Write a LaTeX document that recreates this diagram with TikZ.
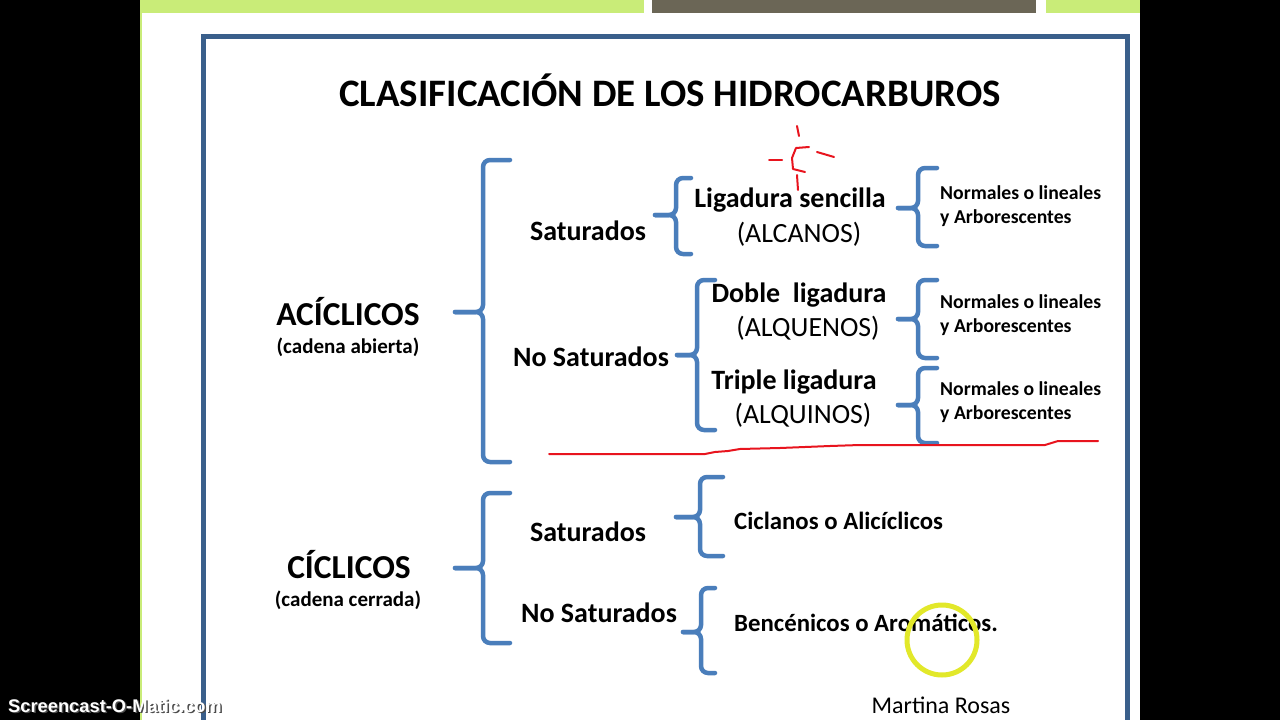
\documentclass[tikz,border=0pt]{standalone}
\usepackage{fontspec}
\setmainfont{Carlito}
\newfontfamily\wmfont{Liberation Sans}
\usetikzlibrary{positioning}

\definecolor{stripgreen}{HTML}{C9EC78}
\definecolor{stripgray}{HTML}{6B6656}
\definecolor{frameblue}{HTML}{3A5F8B}
\definecolor{braceblue}{HTML}{4A7EBB}
\definecolor{annred}{HTML}{E8141E}
\definecolor{cursoryellow}{HTML}{E2E82A}

\begin{document}
\begin{tikzpicture}[x=1pt,y=-1pt,
    brace/.style={braceblue,line width=4.5pt,rounded corners=7pt,line cap=round},
    title/.style={inner sep=0pt,anchor=base,font=\bfseries\fontsize{38.9}{41}\selectfont},
    group/.style={inner sep=0pt,anchor=base,font=\bfseries\fontsize{33.5}{36}\selectfont},
    groupsub/.style={inner sep=0pt,anchor=base,font=\bfseries\fontsize{21}{24}\selectfont},
    kind/.style={inner sep=0pt,anchor=base,font=\bfseries\fontsize{28}{30}\selectfont},
    family/.style={inner sep=0pt,anchor=base,font=\fontsize{27.8}{30}\selectfont},
    leaf/.style={inner sep=0pt,anchor=base west,font=\bfseries\fontsize{19.7}{22}\selectfont},
    cyclic/.style={inner sep=0pt,anchor=base west,font=\bfseries\fontsize{24.8}{27}\selectfont},
    annot/.style={annred,line width=2pt,line cap=round,line join=round}]
  \useasboundingbox (0,0) rectangle (1280,720);
  % screen and slide
  \fill[black] (0,0) rectangle (1280,720);
  \fill[white] (140,0) rectangle (1140,720);
  \fill[stripgreen] (140,0) rectangle (644,13);
  \fill[stripgray] (652,0) rectangle (1036,13);
  \fill[stripgreen] (1046,0) rectangle (1140,13);
  \draw[stripgreen,line width=1.5pt] (141,13) -- (141,720);
  \draw[frameblue,line width=5pt] (203,36) rectangle (1127,740);

  \node[title] (titulo) at (670,106) {CLASIFICACIÓN DE LOS HIDROCARBUROS};

  % braces: tip x / spine x / arm x / top / middle / bottom
  \foreach \xt/\xv/\xe/\yt/\ym/\yb in {
      455/483/510/160/312/462, 655/676/691/178/215/254,
      677/697/715/280/355/430, 898/918/937/168/208/246,
      898/918/937/280/319/358, 898/918/937/368/405/443,
      455/483/510/493/568/643, 676/700/723/477/517/556,
      683/701/715/588/632/673}{
    \draw[brace] (\xe,\yt) -| (\xv,\ym) -- (\xt,\ym);
    \draw[brace] (\xt,\ym) -- (\xv,\ym) |- (\xe,\yb);
  }

  % acyclic
  \node[group] (aciclicos) at (348,325) {ACÍCLICOS};
  \node[groupsub] (abierta) at (348,353) {(cadena abierta)};
  \node[kind] (satA) at (588,240) {Saturados};
  \node[kind] (nosatA) at (591,366) {No Saturados};
  \node[kind] (sencilla) at (790,207) {Ligadura sencilla};
  \node[family] (alcanos) at (799,242) {(ALCANOS)};
  \node[kind] (doble) at (799,302) {Doble\ \ ligadura};
  \node[family] (alquenos) at (808,336) {(ALQUENOS)};
  \node[kind] (triple) at (794,389) {Triple ligadura};
  \node[family] (alquinos) at (803,423) {(ALQUINOS)};
  \foreach \y [count=\i] in {199,308,395}{
    \node[leaf] (normales\i) at (940,\y) {Normales o lineales};
    \node[leaf] (arbor\i) at (940,\y+24) {y Arborescentes};
  }

  % cyclic
  \node[group] (ciclicos) at (349,578) {CÍCLICOS};
  \node[groupsub] (cerrada) at (348,606) {(cadena cerrada)};
  \node[kind] (satC) at (588,541) {Saturados};
  \node[kind] (nosatC) at (599,622) {No Saturados};
  \node[cyclic] (ciclanos) at (734,529) {Ciclanos o Alicíclicos};
  \node[cyclic] (bencenicos) at (734,631) {Bencénicos o Aromáticos.};

  \node[inner sep=0pt,anchor=base,font=\fontsize{24}{26}\selectfont] (autora) at (941,713) {Martina Rosas};

  % hand drawn marks
  \draw[annot] (809,147) -- (796,148) -- (792,158) -- (793,169) -- (805,172);
  \draw[annot] (797,126) -- (799,136);
  \draw[annot] (769,160) -- (782,160);
  \draw[annot] (817,152) -- (834,157);
  \draw[annot] (797,175) -- (798,190);
  \draw[annot] (549,454) -- (705,454) -- (715,452) -- (728,451) -- (740,449) -- (780,448)
    -- (830,446) -- (860,445) -- (1045,445) -- (1058,441) -- (1098,441);
  \draw[cursoryellow,line width=5pt] (942,640) circle (35);

  % recorder watermark
  \node[inner sep=0pt,anchor=base west,text=black!70,font=\wmfont\bfseries\fontsize{18.3}{20}\selectfont] at (9.5,713.5) {Screencast-O-Matic.com};
  \node[inner sep=0pt,anchor=base west,text=white,font=\wmfont\bfseries\fontsize{18.3}{20}\selectfont] (marca) at (8,712) {Screencast-O-Matic.com};
\end{tikzpicture}
\end{document}
